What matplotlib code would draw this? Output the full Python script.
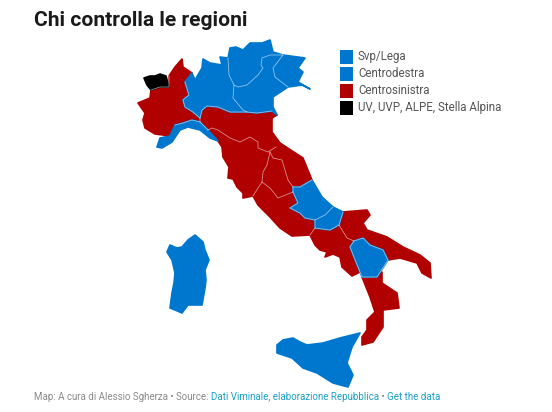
import matplotlib
matplotlib.use('Agg')
import matplotlib.pyplot as plt
from matplotlib.patches import Polygon, Rectangle

plt.rcParams['font.family'] = ['Roboto', 'DejaVu Sans']

# colours
blue = '#0077cf'
red = '#b00000'
black = '#000000'

# region outlines (pixel positions)
aosta = [(144,78),(150,76),(155,76),(160,74),(166,76),(169,87),(160,87),(151,90),(147,85)]
piemonte = [(169,76),(175,67),(182,59),(183,67),(192,73),(185,82),(189,95),(183,100),(185,107),(193,112),(200,118),(200,122),(192,120),(183,123),(175,125),(170,136),(163,135),(155,134),(145,128),(143,120),(145,113),(138,103),(150,98),(151,90),(160,87),(169,87)]
liguria = [(157,147),(160,138),(170,136),(175,125),(183,123),(192,120),(200,122),(208,130),(218,141),(210,138),(200,130),(188,127),(180,130),(172,142),(162,148)]
lombardia = [(185,82),(192,73),(195,80),(202,68),(203,59),(210,63),(222,65),(220,57),(228,58),(229,75),(234,85),(233,98),(243,110),(247,112),(230,112),(218,107),(207,106),(202,110),(200,118),(193,112),(185,107),(183,100),(189,95)]
trentino = [(228,58),(230,48),(236,47),(243,50),(250,43),(262,43),(270,40),(273,52),(283,55),(270,55),(262,58),(261,65),(263,68),(258,75),(247,85),(238,87),(234,85),(229,75)]
veneto = [(283,55),(273,68),(275,77),(288,87),(273,97),(273,107),(277,115),(272,111),(257,113),(247,112),(243,110),(233,98),(234,85),(238,87),(247,85),(258,75),(263,68),(261,65),(262,58),(270,55)]
friuli = [(283,55),(305,58),(298,68),(303,72),(298,82),(310,89),(302,85),(288,87),(275,77),(273,68)]
emilia = [(202,110),(207,106),(218,107),(230,112),(247,112),(257,113),(272,111),(277,115),(272,118),(272,132),(280,143),(276,147),(268,152),(258,148),(258,142),(250,137),(240,142),(230,138),(218,130),(212,128),(208,130),(200,122),(200,118)]
toscana = [(208,130),(212,128),(218,130),(230,138),(240,142),(250,137),(258,142),(258,148),(268,152),(270,152),(267,165),(263,172),(262,182),(260,185),(253,196),(243,198),(243,193),(237,187),(233,179),(228,178),(229,167),(223,157),(222,147),(218,141)]
marche = [(280,143),(303,158),(312,180),(300,187),(293,187),(288,180),(282,160),(273,158),(270,152),(276,147)]
umbria = [(270,152),(273,158),(282,160),(288,180),(293,187),(293,192),(278,198),(270,188),(262,182),(263,172),(267,165)]
lazio = [(253,196),(258,205),(270,217),(280,228),(292,236),(310,235),(315,228),(315,220),(305,218),(300,213),(290,208),(298,203),(293,192),(278,198),(270,188),(262,182),(260,185)]
abruzzo = [(312,180),(322,197),(333,207),(325,215),(315,220),(305,218),(300,213),(290,208),(298,203),(293,192),(293,187),(300,187)]
molise = [(333,207),(343,212),(339,225),(330,230),(315,228),(315,220),(325,215)]
campania = [(310,235),(315,245),(320,250),(327,252),(325,257),(333,254),(340,257),(342,267),(352,276),(360,272),(350,247),(354,241),(347,238),(339,225),(330,230),(315,228)]
puglia = [(343,212),(367,210),(370,215),(363,223),(367,230),(387,237),(403,247),(420,255),(430,263),(431,278),(422,273),(417,263),(400,258),(388,260),(383,250),(370,245),(363,238),(354,241),(347,238),(339,225)]
basilicata = [(354,241),(363,238),(370,245),(383,250),(388,260),(377,277),(362,277),(360,272),(350,247)]
calabria = [(362,277),(368,278),(382,272),(382,283),(397,293),(399,308),(383,310),(383,327),(373,342),(362,345),(362,337),(367,330),(367,320),(375,312),(370,297)]
sicilia = [(277,345),(283,340),(293,338),(300,342),(307,345),(323,343),(340,338),(360,333),(352,347),(347,363),(353,375),(348,387),(333,383),(317,373),(303,368),(292,358),(277,353)]
sardegna = [(167,252),(170,245),(177,248),(182,247),(188,240),(195,235),(203,242),(205,250),(209,260),(205,270),(206,280),(205,288),(202,305),(193,305),(188,305),(182,313),(175,310),(170,308),(172,293),(174,283),(175,273),(172,260)]

# borders between regions, drawn on top in a pale line
borders = [
    [(228,58),(229,75),(234,85),(233,98),(243,110),(247,112)],
    [(283,55),(270,55),(262,58),(261,65),(263,68),(258,75),(247,85),(238,87),(234,85)],
    [(283,55),(273,68),(275,77),(288,87)],
    [(208,130),(212,128),(218,130),(230,138),(240,142),(250,137),(258,142),(258,148),(268,152),(276,147)],
    [(270,152),(267,165),(263,172),(262,182),(260,185),(253,196)],
    [(270,152),(273,158),(282,160),(288,180),(293,187),(293,192),(278,198),(270,188),(262,182)],
    [(293,187),(300,187),(312,180)],
    [(293,192),(298,203),(290,208),(300,213),(305,218),(315,220),(315,228),(310,235)],
    [(333,207),(325,215),(315,220)],
    [(315,228),(330,230),(339,225),(343,212)],
    [(339,225),(347,238),(354,241),(350,247),(360,272),(362,277),(377,277),(388,260),(383,250),(370,245),(363,238),(354,241)],
    [(185,82),(189,95),(183,100),(185,107),(193,112),(200,118),(200,122),(208,130)],
    [(200,118),(202,110),(207,106),(218,107),(230,112),(247,112),(257,113),(272,111)],
    [(175,125),(183,123),(192,120),(200,122)],
    [(169,76),(169,87),(160,87),(151,90)],
]

blue_regions = [liguria, lombardia, trentino, veneto, friuli, abruzzo, molise, basilicata, sicilia, sardegna]
red_regions = [piemonte, emilia, toscana, marche, umbria, lazio, campania, puglia, calabria]
black_regions = [aosta]

legend_labels = ['Svp/Lega', 'Centrodestra', 'Centrosinistra', 'UV, UVP, ALPE, Stella Alpina']
legend_colors = [blue, blue, red, black]
legend_tops = [50, 67, 84, 101]

fig = plt.figure(figsize=(5.52, 4.12), dpi=100)
ax = fig.add_axes([0, 0, 1, 1])
ax.set_xlim(0, 552)
ax.set_ylim(412, 0)
ax.axis('off')

for regions, colour in [(red_regions, red), (blue_regions, blue), (black_regions, black)]:
    for outline in regions:
        ax.add_patch(Polygon(outline, closed=True, facecolor=colour, edgecolor=colour, linewidth=1.2, joinstyle='round'))

for line in borders:
    ax.plot([p[0] for p in line], [p[1] for p in line], color='white', alpha=0.55, linewidth=0.6)

for label, colour, top in zip(legend_labels, legend_colors, legend_tops):
    ax.add_patch(Rectangle((340, top), 13, 13.5, facecolor=colour, edgecolor='none'))
    ax.text(358, top + 6, label, fontsize=8.3, color='#555555', va='center', ha='left')

ax.text(34, 20, 'Chi controlla le regioni', fontsize=15.1, fontweight='bold', color='#1a1a1a', va='center', ha='left')

# footer, grey and link coloured pieces one after the other
grey = '#8a8a8a'
link = '#1a9fc9'
t = ax.text(34, 397, 'Map: A cura di Alessio Sgherza • Source: ', fontsize=7.05, color=grey, va='center', ha='left')
t = ax.annotate('Dati Viminale, elaborazione Repubblica', xy=(1, 0), xycoords=t, va='bottom', ha='left', fontsize=7.05, color=link)
t = ax.annotate(' • ', xy=(1, 0), xycoords=t, va='bottom', ha='left', fontsize=7.05, color=grey)
ax.annotate('Get the data', xy=(1, 0), xycoords=t, va='bottom', ha='left', fontsize=7.05, color=link)

fig.savefig('out.png', dpi=100)
